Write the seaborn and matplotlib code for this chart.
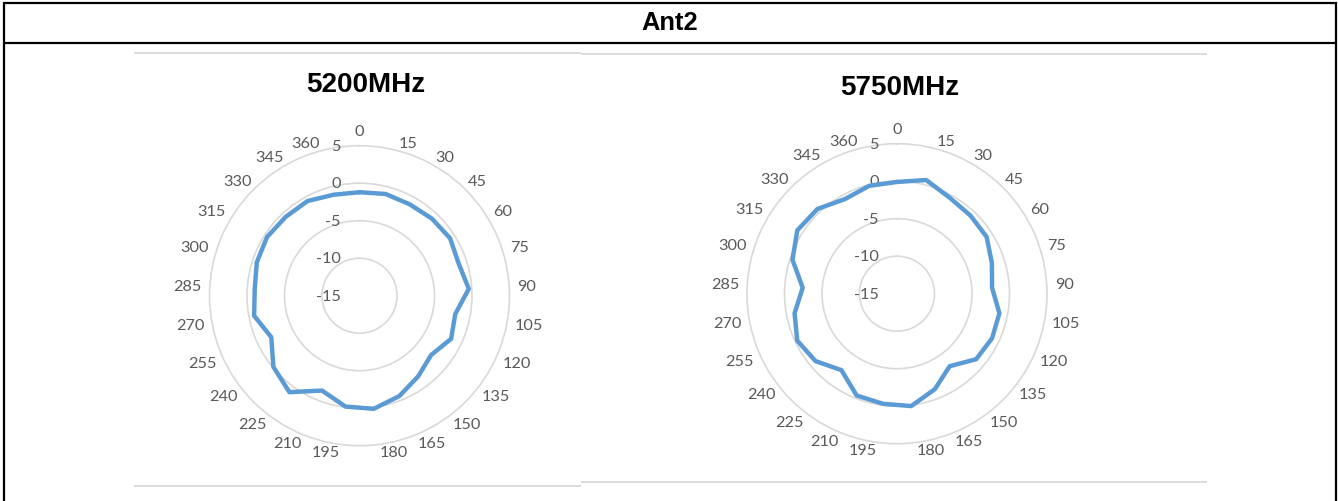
import numpy as np
import pandas as pd
import matplotlib
matplotlib.use("Agg")
import matplotlib.pyplot as plt
from matplotlib.lines import Line2D
from matplotlib.transforms import ScaledTranslation
import seaborn as sns

# Measurement angles (degrees) used as radar categories
angle_labels = ["0", "15", "30", "45", "60", "75", "90", "105", "120", "135",
                "150", "165", "180", "195", "210", "225", "240", "255", "270",
                "285", "300", "315", "330", "345", "360"]

# Antenna gain (dBi) per angle
gain_5200 = [-1.2, -1.0, -1.1, -0.9, -0.7, -1.1, -0.4, -2.0, -1.5, -2.6,
             -1.7, -0.6, 0.2, -0.1, -1.4, 0.9, -0.1, -2.0, -0.7,
             -1.0, -0.6, -0.4, -0.6, -0.6, -1.1]
gain_5750 = [-0.1, 0.65, -0.4, -0.7, -0.85, -1.7, -2.3, -1.1, -1.0, -1.3,
             -3.05, -1.3, 0.1, -0.2, -0.4, -2.4, -0.9, -0.3, -1.1,
             -2.4, -0.35, 0.75, 0.5, -0.6, -0.15]

radial_ticks = [-15, -10, -5, 0, 5]
chart_titles = ["5200MHz", "5750MHz"]
table_header = "Ant2"

W, H, DPI = 1338, 502, 100
RADIUS_PX = 150
R_MIN, R_MAX = radial_ticks[0], radial_ticks[-1]
LABEL_RADIUS_PX = 158

LINE_BLUE = "#5B9BD5"
GRID_GREY = "#D9D9D9"
TEXT_GREY = "#595959"

sns.set_theme(style="white")
plt.rcParams["font.family"] = ["Lato", "DejaVu Sans"]

fig = plt.figure(figsize=(W / DPI, H / DPI), dpi=DPI, facecolor="white")


def fx(px):
    return px / W


def fy(py):
    return 1 - py / H


def radar(cx, cy, values, title, title_xy):
    ax = fig.add_axes([fx(cx - RADIUS_PX), fy(cy + RADIUS_PX),
                       2 * RADIUS_PX / W, 2 * RADIUS_PX / H],
                      projection="polar")
    ax.set_facecolor("white")
    ax.set_theta_zero_location("N")
    ax.set_theta_direction(-1)

    n = len(angle_labels)
    theta = np.arange(n) * 2 * np.pi / n
    df = pd.DataFrame({"theta": np.append(theta, 2 * np.pi),
                       "gain": list(values) + [values[0]]})
    sns.lineplot(data=df, x="theta", y="gain", ax=ax, sort=False,
                 estimator=None, color=LINE_BLUE, linewidth=3.2,
                 solid_joinstyle="round", zorder=5)
    ax.set_xlabel("")
    ax.set_ylabel("")
    ax.set_xlim(0, 2 * np.pi)
    ax.set_ylim(R_MIN, R_MAX)

    # concentric rings; the outer ring is the polar spine
    ax.set_xticks([])
    ax.set_yticks(radial_ticks[1:-1])
    ax.set_yticklabels([])
    ax.yaxis.grid(True, color=GRID_GREY, linewidth=1.2)
    ax.xaxis.grid(False)
    ax.spines["polar"].set_color(GRID_GREY)
    ax.spines["polar"].set_linewidth(1.2)

    # category labels around the rim
    px_per_unit = RADIUS_PX / (R_MAX - R_MIN)
    r_lab = R_MIN + LABEL_RADIUS_PX / px_per_unit
    for t, lab in zip(theta, angle_labels):
        s = np.sin(t)
        if abs(s) < 1e-6:
            ha, va = "center", "bottom"
        else:
            ha, va = ("left" if s > 0 else "right"), "center"
        ax.text(t, r_lab, lab, ha=ha, va=va, fontsize=11.7,
                color=TEXT_GREY, clip_on=False)

    # value labels along the top axis
    shift = ScaledTranslation(-18.5 / DPI, 0, fig.dpi_scale_trans)
    for r in radial_ticks:
        ax.text(0, r, f"{r}", ha="right", va="center", fontsize=11.7,
                color=TEXT_GREY, transform=ax.transData + shift,
                clip_on=False, zorder=4)

    fig.text(fx(title_xy[0]), fy(title_xy[1]), title, ha="center",
             va="center", fontsize=20, fontweight="bold", color="black",
             family=["Liberation Sans", "DejaVu Sans"])
    return ax


radar(359.5, 296.7, gain_5200, chart_titles[0], (365.5, 85))
radar(897, 294.7, gain_5750, chart_titles[1], (900, 88))


def hline(x0, x1, y, color, lw):
    fig.add_artist(Line2D([fx(x0), fx(x1)], [fy(y), fy(y)],
                          transform=fig.transFigure, color=color, lw=lw,
                          solid_capstyle="butt"))


def vline(x, y0, y1, color, lw):
    fig.add_artist(Line2D([fx(x), fx(x)], [fy(y0), fy(y1)],
                          transform=fig.transFigure, color=color, lw=lw,
                          solid_capstyle="butt"))


# chart-area edges
hline(134, 581, 54, GRID_GREY, 1.3)
hline(134, 581, 487.3, GRID_GREY, 1.3)
hline(581, 1207, 55, GRID_GREY, 1.3)
hline(581, 1207, 483.3, GRID_GREY, 1.3)

# table frame and header row
hline(3, 1337, 4.3, "black", 1.6)
hline(3, 1337, 44.2, "black", 1.6)
vline(4.3, 3, 502, "black", 1.6)
vline(1335.7, 3, 502, "black", 1.6)
fig.text(fx(670), fy(23.5), table_header, ha="center", va="center",
         fontsize=18.4, fontweight="bold", color="black",
         family=["Liberation Sans", "DejaVu Sans"])

fig.savefig("out.png", dpi=DPI, facecolor="white")
